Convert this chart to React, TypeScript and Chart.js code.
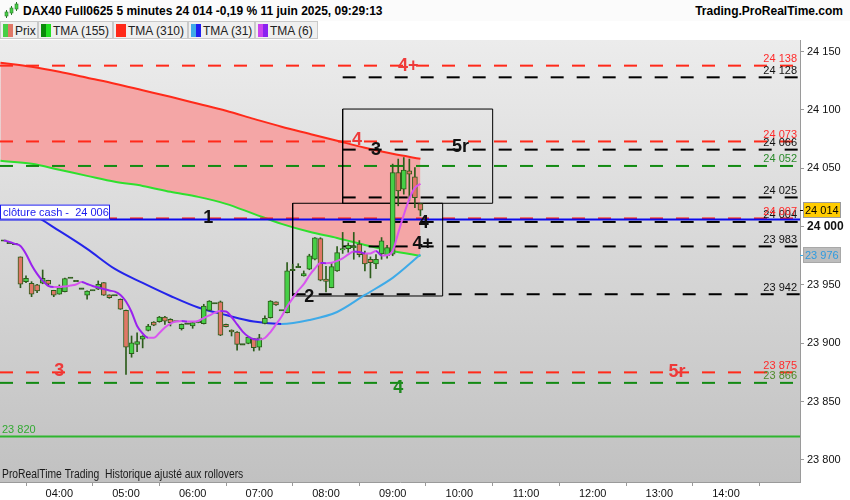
import React, { useEffect, useRef } from "react";
import { Chart, registerables } from "chart.js";

Chart.register(...registerables);

const FONT = "Arial, 'Liberation Sans', Helvetica, sans-serif";

// ---- data ----
const FIRST_BAR_MINUTE = 190; // 03:10
const BAR_MINUTES = 5;

const opens = [
  23988, 23986, 23985, 23974, 23952.8, 23951.4, 23950, 23951.4, 23954, 23945.4,
  23942, 23944.2, 23956.2, 23953.4, 23946.8, 23941.1, 23945.4, 23946.3, 23951.9, 23941.4,
  23941.1, 23937.7, 23928.2, 23891, 23899, 23903.4, 23911, 23918.2, 23918.5, 23922.5,
  23920.5, 23918.8, 23912.4, 23916.8, 23914.8, 23917.8, 23916.8, 23928.2, 23934.2, 23935.4,
  23916.2, 23911.3, 23909.6, 23899, 23899.9, 23903.9, 23896.7, 23917, 23921.9, 23935.4,
  23928.2, 23926.2, 23962.8, 23965.4, 23957.7, 23963.4, 23972, 23989.7, 23955, 23947.6,
  23962, 23980, 23981, 23982, 23985, 23977, 23972, 23968, 23976.5, 23975,
  23976.3, 24046.4, 24032.1, 24047.8, 24042.7, 24019.7,
];
const highs = [
  23988, 23986, 23985, 23974, 23957.7, 23952.8, 23950.5, 23962.8, 23954, 23945.4,
  23950, 23955.8, 23956.2, 23953.4, 23946.8, 23945, 23945.4, 23953.4, 23952, 23941.5,
  23941.1, 23938, 23928.5, 23906.2, 23909, 23906.5, 23916.2, 23918.5, 23923, 23923,
  23921, 23918.8, 23916.5, 23916.8, 23918, 23919, 23933.4, 23936.5, 23934.2, 23936.2,
  23916.5, 23911.5, 23910, 23899, 23905.5, 23904, 23907.6, 23923.4, 23936.5, 23935.5,
  23928.2, 23969.1, 23967.7, 23968.2, 23962, 23976.3, 23990.5, 23990.5, 23966, 23969,
  23982.8, 23995, 23986, 23995, 23988, 23979, 23974, 23976, 23990.6, 23984,
  24053.6, 24057.9, 24059.2, 24057.9, 24050.6, 24020,
];
const lows = [
  23988, 23986, 23985, 23947.6, 23952, 23939.9, 23943.3, 23951, 23950, 23939.9,
  23942, 23944, 23956.2, 23953.4, 23946.8, 23937.7, 23945.4, 23946, 23941, 23938.5,
  23941.1, 23929, 23873.3, 23888, 23892.7, 23896, 23910.5, 23915, 23918, 23916.2,
  23914.8, 23918.8, 23911.3, 23916.8, 23912.8, 23917.5, 23916.5, 23928, 23934.2, 23906.5,
  23914, 23906.2, 23894, 23899, 23899.5, 23893.3, 23894, 23916.5, 23921.5, 23932.5,
  23928.2, 23926, 23962.5, 23965, 23957.5, 23963, 23971.5, 23953.5, 23944, 23947.5,
  23961.5, 23977, 23978, 23972, 23974, 23962, 23956, 23964, 23972, 23973,
  23975, 24017.8, 24027.8, 24022, 24016.3, 24009.2,
];
const closes = [
  23988, 23986, 23985, 23950.6, 23955.7, 23942, 23944.8, 23955.7, 23950.6, 23941.1,
  23947.6, 23955.4, 23956.2, 23953.4, 23946.8, 23944.8, 23945.4, 23950.6, 23941.1, 23939,
  23941.1, 23929.1, 23896.7, 23900.4, 23901.3, 23906.2, 23914.8, 23915.4, 23922.5, 23919,
  23917.6, 23918.8, 23916.2, 23916.8, 23917.6, 23918.8, 23931.9, 23936.2, 23934.2, 23906.8,
  23914.2, 23909.6, 23899, 23899, 23905.3, 23896.1, 23904.7, 23921.4, 23936.2, 23932.8,
  23928.2, 23962, 23962.8, 23965.4, 23959.7, 23974.9, 23990.3, 23954, 23953, 23965.7,
  23977.7, 23981, 23984, 23983, 23976, 23968, 23969, 23972, 23987.7, 23982,
  24046.4, 24030.6, 24048.4, 24045, 24024.9, 24014,
];
// TMA (6), one value per bar
const tma6 = [
  23988.2, 23986.9, 23985.2, 23983.4, 23976.6, 23967.1, 23959.4, 23953.4, 23949.1, 23948.2,
  23948.2, 23948.7, 23949.5, 23950.4, 23952.5, 23950.8, 23949.1, 23947.8, 23946.5, 23945.2,
  23944.2, 23941.4, 23935.8, 23926.8, 23914.8, 23908.3, 23904.7, 23904.7, 23908.8, 23913.5,
  23916.9, 23918.6, 23919.1, 23918.6, 23918.6, 23919.1, 23921.6, 23923.8, 23926.2, 23927.6,
  23927.2, 23922.5, 23916.1, 23910, 23905.8, 23903.4, 23903.2, 23904.5, 23909.6, 23916.1,
  23922.9, 23931.5, 23938.4, 23945.2, 23950.6, 23958.1, 23964.1, 23968.8, 23968.6, 23969,
  23970.6, 23972.7, 23976.1, 23978.7, 23978.3, 23977, 23977, 23979.1, 23975.3, 23975.5,
  23979.1, 23994.6, 24010, 24023.8, 24033.2, 24036.7,
];
// slower averages, read every 25 minutes
const maTimes = [187, 215, 240, 265, 290, 315, 340, 365, 390, 415, 440, 465, 490, 515, 540, 565];
const tma310 = [24140.5, 24137.1, 24132.8, 24127.6, 24122.5, 24116.9, 24111.3, 24105.3, 24099.3, 24092.4, 24085.6, 24079.6, 24073.6, 24067.6, 24062.4, 24058.1];
const tma155 = [24056.4, 24053.8, 24048.7, 24043.5, 24038.4, 24034.9, 24029.8, 24025.5, 24019.5, 24010.9, 24002.3, 23995.5, 23990.3, 23984.3, 23979.1, 23974.8];
const tma31 = [24016, 24010.5, 23996.3, 23980.9, 23963.7, 23951.7, 23940.5, 23930.6, 23924.2, 23918.6, 23916.5, 23919.9, 23926.8, 23941.4, 23956, 23976];

// horizontal levels
const redLevels = [24138, 24073, 24007, 23875];
const blackLevels = [24128, 24066, 24025, 24004, 23983, 23942];
const blackLevelStarts = [495, 495, 495, 495, 495, 450];
const greenLevels = [24052, 23866];
const cashClose = 24006;
const supportLevel = 23820;

// boxes
const boxStarts = [450, 495];
const boxEnds = [585, 630];
const boxLows = [23940.5, 24020];
const boxHighs = [24020, 24100.8];

// text notes
const noteLabels = ["4+", "4", "3", "5r", "1", "2", "4", "4+", "3", "5r", "4"];
const noteTimes = [554, 508, 525, 601, 374, 465, 568, 567, 240, 796, 545];
const notePrices = [24138, 24074, 24066, 24068, 24007, 23940, 24003, 23985, 23876, 23875, 23862];
const noteKinds = ["red", "red", "black", "black", "black", "black", "black", "black", "red", "red", "green"];

// axes
const X_MIN = 186.6;
const X_MAX = 906.6;
const Y_MIN = 23781;
const Y_MAX = 24160;
const hourTicks = [240, 300, 360, 420, 480, 540, 600, 660, 720, 780, 840];
const PRICE_STEP = 50;

// ---- styles ----
const UP = "#46cf46";
const DOWN = "#e07766";
const EDGE = "#2c5c1a";
const RED = "#ff2a1a";
const NOTE_COLORS: Record<string, string> = { red: "#ee3a3a", black: "#111111", green: "#1f8a1f" };

const fmt = (v: number) => {
  const s = Math.round(v).toString();
  return s.slice(0, s.length - 3) + " " + s.slice(-3);
};
const hhmm = (m: number) => {
  const h = Math.floor(m / 60);
  const mm = Math.round(m % 60);
  return String(h).padStart(2, "0") + ":" + String(mm).padStart(2, "0");
};
const noPad = (s: any) => {
  s.paddingTop = 0;
  s.paddingBottom = 0;
  s.paddingLeft = 0;
  s.paddingRight = 0;
};

export default function App() {
  const ref = useRef<HTMLCanvasElement | null>(null);

  useEffect(() => {
    if (!ref.current) return;
    const times = opens.map((_, i) => FIRST_BAR_MINUTE + i * BAR_MINUTES);

    const bodyData = opens.map((o, i) => {
      const c = closes[i];
      let lo = Math.min(o, c);
      let hi = Math.max(o, c);
      if (hi - lo < 1.2) {
        const m = (hi + lo) / 2;
        lo = m - 0.6;
        hi = m + 0.6;
      }
      return { x: times[i], y: [lo, hi] };
    });
    const bodyColors = opens.map((o, i) => (closes[i] > o + 0.5 ? UP : closes[i] < o - 0.5 ? DOWN : EDGE));
    const wickData = opens.map((_, i) => ({ x: times[i], y: [lows[i], highs[i]] }));

    const hline = (v: number, start: number, color: string, dash: number[], width: number, order: number) => ({
      type: "line",
      data: [
        { x: start, y: v },
        { x: X_MAX, y: v },
      ],
      borderColor: color,
      borderWidth: width,
      borderDash: dash,
      pointRadius: 0,
      tension: 0,
      fill: false,
      order,
    });

    const datasets: any[] = [
      {
        type: "line",
        label: "TMA (310)",
        data: maTimes.map((t, i) => ({ x: t, y: tma310[i] })),
        borderColor: RED,
        borderWidth: 2,
        pointRadius: 0,
        cubicInterpolationMode: "monotone",
        fill: "+1",
        backgroundColor: "#f4a6a6",
        order: 20,
      },
      {
        type: "line",
        label: "TMA (155)",
        data: maTimes.map((t, i) => ({ x: t, y: tma155[i] })),
        borderColor: "#2ee02e",
        borderWidth: 2,
        pointRadius: 0,
        cubicInterpolationMode: "monotone",
        fill: false,
        order: 19,
      },
    ];
    redLevels.forEach((v) => datasets.push(hline(v, X_MIN, RED, [13, 13], 2, 15)));
    greenLevels.forEach((v) => datasets.push(hline(v, X_MIN, "#138a13", [13, 13], 2, 15)));
    blackLevels.forEach((v, i) => datasets.push(hline(v, blackLevelStarts[i], "#000000", [13, 13], 2, 15)));
    datasets.push(hline(cashClose, X_MIN, "#0a0aee", [], 2, 14));
    datasets.push(hline(supportLevel, X_MIN, "#2fb52f", [], 2, 14));
    boxStarts.forEach((s, i) => {
      const e = boxEnds[i];
      const lo = boxLows[i];
      const hi = boxHighs[i];
      datasets.push({
        type: "line",
        data: [
          { x: s, y: lo },
          { x: e, y: lo },
          { x: e, y: hi },
          { x: s, y: hi },
          { x: s, y: lo },
        ],
        borderColor: "#000000",
        borderWidth: 1,
        pointRadius: 0,
        tension: 0,
        fill: false,
        order: 13,
      });
    });
    datasets.push({
      type: "line",
      label: "TMA (31)",
      data: maTimes.map((t, i) => ({ x: t, y: tma31[i] })),
      borderColor: "#2424ea",
      borderWidth: 2,
      pointRadius: 0,
      cubicInterpolationMode: "monotone",
      fill: false,
      segment: {
        borderColor: (ctx: any) => (ctx.p1.parsed.y >= ctx.p0.parsed.y ? "#3eaae8" : "#2424ea"),
      },
      order: 12,
    });
    datasets.push({
      type: "bar",
      data: wickData,
      backgroundColor: EDGE,
      borderWidth: 0,
      barThickness: 1,
      grouped: false,
      order: 6,
    });
    datasets.push({
      type: "bar",
      data: bodyData,
      backgroundColor: bodyColors,
      borderColor: EDGE,
      borderWidth: 1,
      borderSkipped: false,
      barThickness: 5,
      grouped: false,
      order: 5,
    });
    datasets.push({
      type: "line",
      label: "TMA (6)",
      data: times.map((t, i) => ({ x: t, y: tma6[i] })),
      borderColor: "#9a22ee",
      borderWidth: 2,
      pointRadius: 0,
      cubicInterpolationMode: "monotone",
      fill: false,
      segment: {
        borderColor: (ctx: any) => (ctx.p1.parsed.y >= ctx.p0.parsed.y ? "#d955f0" : "#9a22ee"),
      },
      order: 2,
    });

    const overlay = {
      id: "overlay",
      beforeDraw(chart: any) {
        const { ctx, chartArea } = chart;
        const { left, top, right, bottom } = chartArea;
        ctx.save();
        ctx.fillStyle = "#ffffff";
        ctx.fillRect(0, 0, chart.width, chart.height);
        const g = ctx.createLinearGradient(0, top, 0, bottom);
        g.addColorStop(0, "#ececec");
        g.addColorStop(1, "#c1c1c1");
        ctx.fillStyle = g;
        ctx.fillRect(left, top, right - left, bottom - top);
        ctx.restore();
      },
      afterDatasetsDraw(chart: any) {
        const { ctx, chartArea, scales } = chart;
        const xs = scales.x;
        const ys = scales.y;
        ctx.save();
        ctx.font = `11px ${FONT}`;
        ctx.textAlign = "right";
        ctx.textBaseline = "bottom";
        const drawLevel = (v: number, color: string) => {
          ctx.fillStyle = color;
          ctx.fillText(fmt(v), chartArea.right - 3, ys.getPixelForValue(v) - 1);
        };
        blackLevels.forEach((v) => drawLevel(v, "#111111"));
        greenLevels.forEach((v, i) => drawLevel(v, i === 0 ? "#2a8a2a" : "#4f8a2a"));
        redLevels.forEach((v) => drawLevel(v, "#ff2a2a"));
        ctx.textAlign = "left";
        ctx.fillStyle = "#33aa33";
        ctx.fillText(fmt(supportLevel), chartArea.left + 2, ys.getPixelForValue(supportLevel) - 1);
        const yc = ys.getPixelForValue(cashClose);
        ctx.fillStyle = "#ffffff";
        ctx.fillRect(chartArea.left, yc - 15, 110, 15);
        ctx.strokeStyle = "#1a1aee";
        ctx.lineWidth = 1;
        ctx.strokeRect(chartArea.left + 0.5, yc - 14.5, 109, 14);
        ctx.fillStyle = "#1a1aee";
        ctx.textBaseline = "middle";
        ctx.fillText("clôture cash -  " + fmt(cashClose), chartArea.left + 3, yc - 7);
        ctx.font = `bold 18px ${FONT}`;
        ctx.textAlign = "center";
        ctx.textBaseline = "middle";
        noteLabels.forEach((t, i) => {
          ctx.fillStyle = NOTE_COLORS[noteKinds[i]];
          ctx.fillText(t, xs.getPixelForValue(noteTimes[i]), ys.getPixelForValue(notePrices[i]));
        });
        ctx.font = `12px ${FONT}`;
        ctx.textAlign = "left";
        ctx.textBaseline = "bottom";
        ctx.fillStyle = "#1a1a1a";
        ctx.translate(chartArea.left + 2, chartArea.bottom - 1);
        ctx.scale(0.86, 1);
        ctx.fillText("ProRealTime Trading  Historique ajusté aux rollovers", 0, 0);
        ctx.restore();
      },
      afterDraw(chart: any) {
        const { ctx, chartArea, scales } = chart;
        const ys = scales.y;
        ctx.save();
        ctx.strokeStyle = "#9a9a9a";
        ctx.lineWidth = 1;
        ctx.beginPath();
        ctx.moveTo(chartArea.right + 0.5, 0);
        ctx.lineTo(chartArea.right + 0.5, chartArea.bottom);
        ctx.stroke();
        ctx.font = `11px ${FONT}`;
        ctx.textAlign = "left";
        ctx.textBaseline = "middle";
        const tag = (v: number, fill: string, border: string, text: string, tick: string) => {
          const y = Math.round(ys.getPixelForValue(v));
          ctx.fillStyle = fill;
          ctx.fillRect(chartArea.right + 3, y - 8, 38, 16);
          ctx.strokeStyle = border;
          ctx.strokeRect(chartArea.right + 3.5, y - 7.5, 37, 15);
          ctx.fillStyle = text;
          ctx.fillText(fmt(v), chartArea.right + 5, y + 0.5);
          ctx.strokeStyle = tick;
          ctx.beginPath();
          ctx.moveTo(chartArea.right, y + 0.5);
          ctx.lineTo(chartArea.right + 3, y + 0.5);
          ctx.stroke();
        };
        tag(closes[closes.length - 1], "#ffcc00", "#9a9a9a", "#000000", "#000000");
        tag(tma31[tma31.length - 1], "#bdbdbd", "#a8a8a8", "#2e9be0", "#3eaae8");
        ctx.restore();
      },
    };

    const chart = new Chart(ref.current, {
      type: "line",
      data: { datasets },
      options: {
        animation: false,
        responsive: false,
        maintainAspectRatio: false,
        events: [],
        layout: { padding: 0 },
        plugins: { legend: { display: false }, tooltip: { enabled: false } },
        scales: {
          x: {
            type: "linear",
            min: X_MIN,
            max: X_MAX,
            offset: false,
            afterBuildTicks: (s: any) => {
              s.ticks = hourTicks.map((v) => ({ value: v }));
            },
            afterFit: (s: any) => {
              s.height = 18;
              noPad(s);
            },
            grid: { display: true, drawOnChartArea: false, drawTicks: true, tickLength: 4, color: "#9a9a9a" },
            border: { display: true, color: "#9a9a9a" },
            ticks: {
              autoSkip: false,
              maxRotation: 0,
              padding: 1,
              color: "#111111",
              font: { family: FONT, size: 11 },
              callback: (v: any) => hhmm(Number(v)),
            },
          },
          y: {
            type: "linear",
            position: "right",
            min: Y_MIN,
            max: Y_MAX,
            beginAtZero: false,
            afterFit: (s: any) => {
              s.width = 50;
              noPad(s);
            },
            grid: { display: true, drawOnChartArea: false, drawTicks: true, tickLength: 4, color: "#9a9a9a" },
            border: { display: true, color: "#9a9a9a" },
            ticks: {
              stepSize: PRICE_STEP,
              includeBounds: false,
              padding: 3,
              color: "#111111",
              font: (c: any) =>
                c.tick && c.tick.value === 24000
                  ? { family: FONT, size: 12, weight: "bold" }
                  : { family: FONT, size: 11 },
              callback: (v: any) => fmt(Number(v)),
            },
          },
        },
      } as any,
      plugins: [overlay],
    });
    return () => chart.destroy();
  }, []);

  const lastClose = closes[closes.length - 1];
  const legend = [
    { label: "Prix", a: UP, b: DOWN, left: 0, width: 38 },
    { label: "TMA (155)", a: "#0a8a0a", b: "#22e022", left: 38, width: 75 },
    { label: "TMA (310)", a: RED, b: RED, left: 113, width: 75 },
    { label: "TMA (31)", a: "#3eaae8", b: "#2020f0", left: 188, width: 67 },
    { label: "TMA (6)", a: "#cc44ee", b: "#8a22f0", left: 255, width: 63 },
  ];

  return (
    <div
      style={{
        position: "fixed",
        left: 0,
        top: 0,
        width: 850,
        height: 500,
        background: "#ffffff",
        overflow: "hidden",
        fontFamily: FONT,
      }}
    >
      <div style={{ position: "absolute", left: 0, top: 0, width: 850, height: 21, background: "#fbfbfb" }}>
        <svg width="16" height="18" style={{ position: "absolute", left: 4, top: 1 }}>
          <line x1="2.5" y1="9" x2="2.5" y2="17" stroke="#2c7a2c" />
          <rect x="1" y="11" width="3" height="4" fill="#46cf46" stroke="#2c7a2c" strokeWidth="0.6" />
          <line x1="7.5" y1="5" x2="7.5" y2="14" stroke="#2c7a2c" />
          <rect x="6" y="7" width="3" height="5" fill="#46cf46" stroke="#2c7a2c" strokeWidth="0.6" />
          <line x1="12.5" y1="1" x2="12.5" y2="10" stroke="#2c7a2c" />
          <rect x="11" y="3" width="3" height="5" fill="#46cf46" stroke="#2c7a2c" strokeWidth="0.6" />
        </svg>
        <span
          style={{ position: "absolute", left: 23, top: 4, fontSize: 12, fontWeight: "bold", color: "#000", whiteSpace: "nowrap" }}
        >
          {`DAX40 Full0625 5 minutes ${fmt(lastClose)} -0,19 % 11 juin 2025, 09:29:13`}
        </span>
        <span
          style={{ position: "absolute", right: 7, top: 4, fontSize: 12, fontWeight: "bold", color: "#000", whiteSpace: "nowrap" }}
        >
          Trading.ProRealTime.com
        </span>
      </div>
      <div style={{ position: "absolute", left: 0, top: 21, width: 850, height: 19, background: "#ffffff" }}>
        {legend.map((it) => (
          <div
            key={it.label}
            style={{
              position: "absolute",
              left: it.left,
              top: 0,
              width: it.width,
              height: 18,
              boxSizing: "border-box",
              border: "1px solid #c9c9c9",
              background: "#efefef",
            }}
          >
            <div style={{ position: "absolute", left: 2, top: 2, width: 5, height: 13, background: it.a }} />
            <div style={{ position: "absolute", left: 7, top: 2, width: 5, height: 13, background: it.b }} />
            <span style={{ position: "absolute", left: 14, top: 2, fontSize: 12, color: "#222", whiteSpace: "nowrap" }}>
              {it.label}
            </span>
          </div>
        ))}
      </div>
      <canvas ref={ref} width={850} height={460} style={{ position: "absolute", left: 0, top: 40, width: 850, height: 460 }} />
    </div>
  );
}
